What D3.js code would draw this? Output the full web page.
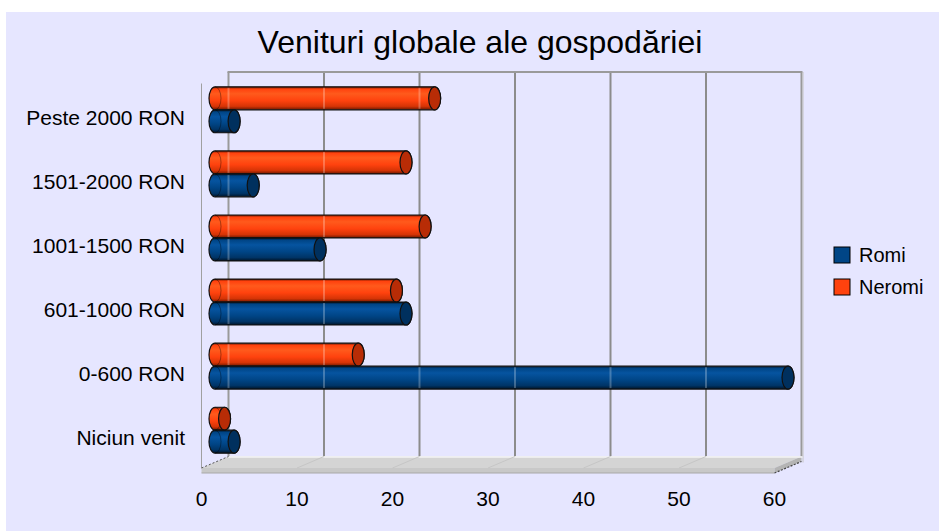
<!DOCTYPE html>
<html lang="ro">
<head>
<meta charset="UTF-8">
<title>Venituri globale ale gospodăriei</title>
<script src="https://d3js.org/d3.v7.min.js"></script>
<style>
  body { margin: 0; background: #fff; font-family: "Liberation Sans", Arial, sans-serif; }
  svg text { fill: #000; }
</style>
</head>
<body>
<svg width="939" height="531"></svg>
<script>
// categories, top to bottom as in the chart
const categories = ["Peste 2000 RON", "1501-2000 RON", "1001-1500 RON", "601-1000 RON", "0-600 RON", "Niciun venit"];
const romi   = [2, 4, 11, 20, 60, 2];
const neromi = [23, 20, 22, 19, 15, 1];
const ticks  = [0, 10, 20, 30, 40, 50, 60];
const seriesNames = ["Romi", "Neromi"];

const svg = d3.select("svg");
const defs = svg.append("defs");

// page background
svg.append("rect").attr("x", 6).attr("y", 12).attr("width", 933).attr("height", 519).attr("fill", "#e6e6ff");

svg.append("text")
  .attr("x", 480).attr("y", 53)
  .attr("text-anchor", "middle")
  .style("font-size", "32px")
  .text("Venituri globale ale gospodăriei");

// front plane scales, depth offset goes up and right
const x = d3.scaleLinear().domain([0, 60]).range([201.5, 774.5]);
const y = d3.scaleBand().domain(categories).range([83.5, 468]).paddingInner(0.283).paddingOuter(0.1415);
const depth = {dx: 27, dy: -11.5};
const bx = v => x(v) + depth.dx;          // back wall
const by = v => v + depth.dy;
const mx = v => x(v) + depth.dx / 2;      // middle depth, where bars sit
const my = v => v + depth.dy / 2;

const top0 = 83.5, bottom0 = 468;

// back wall grid
const grid = svg.append("g");
grid.selectAll("line.v")
  .data(ticks)
  .join("line")
  .attr("x1", d => bx(d)).attr("x2", d => bx(d))
  .attr("y1", by(top0)).attr("y2", by(bottom0))
  .attr("stroke", d => (d === 0 || d === 60) ? "#9a9a9a" : "#8c8c8c")
  .attr("stroke-width", 2);
grid.append("line")
  .attr("x1", bx(0) - 1).attr("x2", bx(60) + 1)
  .attr("y1", by(top0)).attr("y2", by(top0))
  .attr("stroke", "#9a9a9a").attr("stroke-width", 2);
grid.append("line")
  .attr("x1", bx(60) + 1.5).attr("x2", bx(60) + 1.5)
  .attr("y1", by(top0)).attr("y2", by(bottom0) + 6)
  .attr("stroke", "#c4c4c4").attr("stroke-width", 1);

// left wall front edge
svg.append("line")
  .attr("x1", x(0)).attr("x2", x(0))
  .attr("y1", top0).attr("y2", bottom0)
  .attr("stroke", "#a0a0a0").attr("stroke-width", 1);

// floor slab
const floorG = svg.append("g");
const fTop = [[x(0), bottom0], [x(60), bottom0], [bx(60), by(bottom0)], [bx(0), by(bottom0)]];
floorG.append("path")
  .attr("d", d3.line()(fTop) + "Z")
  .attr("fill", "#d4d4d4");
floorG.append("path")
  .attr("d", d3.line()([[x(0), bottom0], [x(60), bottom0], [x(60), bottom0 + 5], [x(0), bottom0 + 5]]) + "Z")
  .attr("fill", "#c8c8c8");
floorG.append("path")
  .attr("d", d3.line()([[x(60), bottom0], [bx(60), by(bottom0)], [bx(60), by(bottom0) + 5], [x(60), bottom0 + 5]]) + "Z")
  .attr("fill", "#b4b4b4");
floorG.append("line")
  .attr("x1", bx(0)).attr("x2", bx(60) + 1)
  .attr("y1", by(bottom0) + 0.5).attr("y2", by(bottom0) + 0.5)
  .attr("stroke", "#f4f4f4").attr("stroke-width", 1.5);
floorG.selectAll("line.fg")
  .data(ticks.slice(1, -1))
  .join("line")
  .attr("x1", d => x(d)).attr("y1", bottom0)
  .attr("x2", d => bx(d)).attr("y2", by(bottom0))
  .attr("stroke", "#c6c6c6").attr("stroke-width", 1);
floorG.append("line")
  .attr("x1", x(0)).attr("y1", bottom0)
  .attr("x2", bx(0)).attr("y2", by(bottom0))
  .attr("stroke", "#555").attr("stroke-width", 1).attr("stroke-dasharray", "2,2");
floorG.append("line")
  .attr("x1", x(0)).attr("x2", x(60))
  .attr("y1", bottom0 + 5).attr("y2", bottom0 + 5)
  .attr("stroke", "#a8a8a8").attr("stroke-width", 1);
floorG.append("line")
  .attr("x1", x(60)).attr("y1", bottom0 + 5)
  .attr("x2", bx(60)).attr("y2", by(bottom0) + 5)
  .attr("stroke", "#444").attr("stroke-width", 1.2).attr("stroke-dasharray", "2,1.5");

// bar gradients
const palette = {
  Romi:   {base: "#004586", light: "#0654a0", mid: "#003466", dark: "#001428", cap: "#00305e"},
  Neromi: {base: "#ff420e", light: "#ff5a1c", mid: "#d63406", dark: "#6e1800", cap: "#b82c06"}
};
Object.entries(palette).forEach(([k, c]) => {
  const g = defs.append("linearGradient").attr("id", "g" + k)
    .attr("x1", 0).attr("y1", 0).attr("x2", 0).attr("y2", 1);
  [[0, c.dark], [0.1, c.base], [0.3, c.light], [0.6, c.base], [0.85, c.mid], [1, c.dark]]
    .forEach(([o, col]) => g.append("stop").attr("offset", o).attr("stop-color", col));
});

const sub = d3.scaleBand().domain(["Neromi", "Romi"]).range([0, y.bandwidth()]);
const bars = [];
categories.forEach((c, i) => {
  bars.push({cat: c, series: "Neromi", value: neromi[i]});
  bars.push({cat: c, series: "Romi", value: romi[i]});
});

const rx = 6;
const barG = svg.append("g").selectAll("g")
  .data(bars)
  .join("g");

barG.each(function(d) {
  const g = d3.select(this);
  const t = my(y(d.cat) + sub(d.series));
  const h = sub.bandwidth();
  const b = t + h;
  const x0 = mx(0), x1 = mx(d.value);
  const ry = h / 2;
  const c = palette[d.series];
  g.append("path")
    .attr("d", `M${x0},${t} L${x1},${t} A${rx},${ry} 0 0 1 ${x1},${b} L${x0},${b} A${rx},${ry} 0 0 1 ${x0},${t} Z`)
    .attr("fill", `url(#g${d.series})`)
    .attr("stroke", "#111").attr("stroke-width", 1.2);
  // near-end seam
  g.append("path")
    .attr("d", `M${x0},${t} A${rx},${ry} 0 0 1 ${x0},${b}`)
    .attr("fill", "none").attr("stroke", "#000").attr("stroke-opacity", 0.35);
  // grid seen through the bars
  ticks.filter(v => bx(v) > x0 && bx(v) < x1 - rx).forEach(v => {
    g.append("line")
      .attr("x1", bx(v)).attr("x2", bx(v))
      .attr("y1", t + 1).attr("y2", b - 1)
      .attr("stroke", "#ffffff").attr("stroke-opacity", 0.25).attr("stroke-width", 2);
  });
  // far-end cap
  g.append("ellipse")
    .attr("cx", x1).attr("cy", t + ry)
    .attr("rx", rx).attr("ry", ry)
    .attr("fill", c.cap)
    .attr("stroke", "#111").attr("stroke-width", 1.2);
});

// category labels
svg.append("g").selectAll("text")
  .data(categories)
  .join("text")
  .attr("x", 185)
  .attr("y", d => y(d) + y.bandwidth() / 2 + 2)
  .attr("dy", "0.35em")
  .attr("text-anchor", "end")
  .style("font-size", "21px")
  .text(d => d);

// value axis labels
svg.append("g").selectAll("text")
  .data(ticks)
  .join("text")
  .attr("x", d => x(d))
  .attr("y", 499)
  .attr("dy", "0.35em")
  .attr("text-anchor", "middle")
  .style("font-size", "21px")
  .text(d => d);

// legend
const legend = svg.append("g").selectAll("g")
  .data(seriesNames)
  .join("g")
  .attr("transform", (d, i) => `translate(834,${247 + i * 32})`);
legend.append("rect")
  .attr("width", 16).attr("height", 16)
  .attr("fill", d => palette[d].base)
  .attr("stroke", "#000").attr("stroke-width", 1);
legend.append("text")
  .attr("x", 25).attr("y", 8).attr("dy", "0.35em")
  .style("font-size", "20px")
  .text(d => d);
</script>
</body>
</html>
